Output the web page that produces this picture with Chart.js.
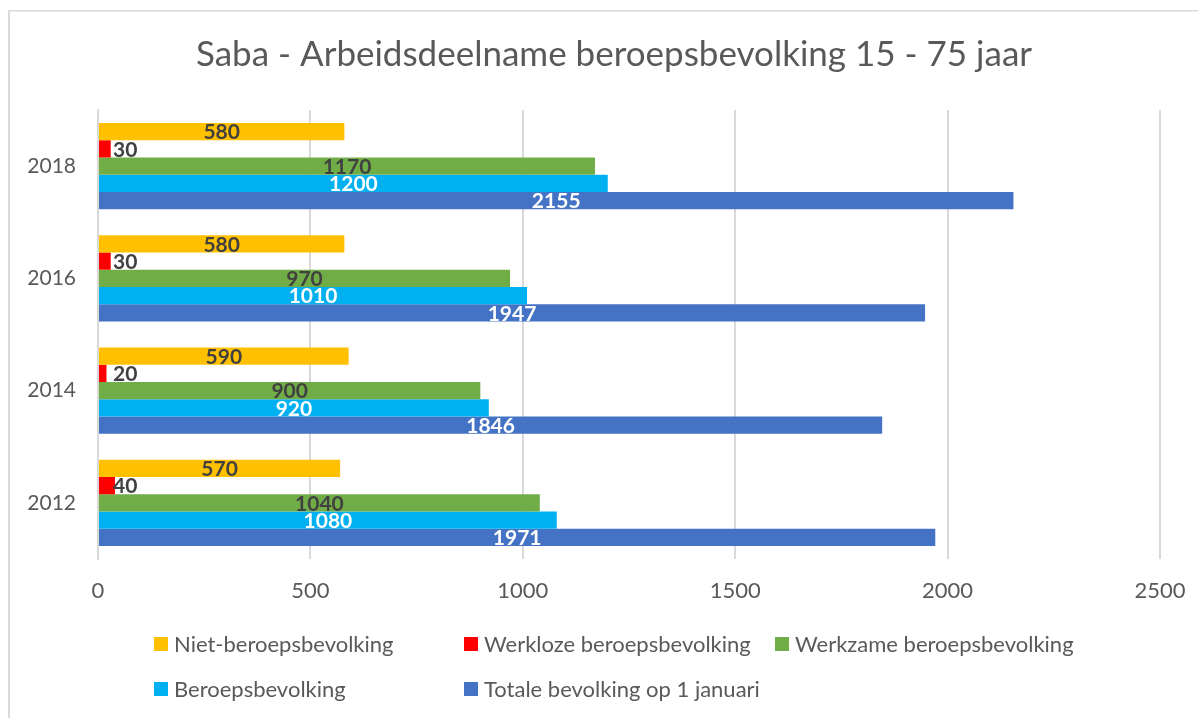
<!DOCTYPE html>
<html>
<head>
<meta charset="utf-8">
<script src="https://cdn.jsdelivr.net/npm/chart.js@4.4.0/dist/chart.umd.min.js"></script>
<style>
  html, body { margin: 0; padding: 0; background: #fff; }
  canvas { display: block; }
</style>
</head>
<body>
<canvas id="chart" width="1198" height="718"></canvas>
<script>
// categories, top to bottom as in the picture
const years = ['2018', '2016', '2014', '2012'];

const nietBeroeps = [580, 580, 590, 570];
const werkloze = [30, 30, 20, 40];
const werkzame = [1170, 970, 900, 1040];
const beroeps = [1200, 1010, 920, 1080];
const totale = [2155, 1947, 1846, 1971];

const xTicks = [0, 500, 1000, 1500, 2000, 2500];

const seriesNames = [
  'Niet-beroepsbevolking',
  'Werkloze beroepsbevolking',
  'Werkzame beroepsbevolking',
  'Beroepsbevolking',
  'Totale bevolking op 1 januari'
];
const seriesColors = ['#FFC000', '#FF0000', '#70AD47', '#00B0F0', '#4472C4'];
const labelColors = ['#404040', '#404040', '#404040', '#ffffff', '#ffffff'];

const FONT = 'Lato, Calibri, "Open Sans", sans-serif';
const TEXT_GREY = '#595959';
const GRID = '#d9d9d9';

const frame = {
  id: 'frame',
  beforeDraw(chart){
    const c = chart.ctx;
    c.save();
    c.fillStyle = '#fff';
    c.fillRect(0, 0, chart.width, chart.height);
    c.fillStyle = GRID;
    c.fillRect(8, 10, chart.width - 8, 1.5);
    c.fillRect(8, 10, 2, chart.height - 10);
    c.restore();
  },
  afterDraw(chart){
    const c = chart.ctx;
    c.save();
    // title
    c.fillStyle = TEXT_GREY;
    c.font = '35px ' + FONT;
    c.textAlign = 'center';
    c.textBaseline = 'middle';
    c.fillText('Saba - Arbeidsdeelname beroepsbevolking 15 - 75 jaar', 614, 55);

    // legend, laid out as a grid like the original
    const cols = [154, 464, 775];
    const rows = [644, 689];
    c.font = '22px ' + FONT;
    c.textAlign = 'left';
    chart.data.datasets.forEach((ds, i) => {
      const x = cols[i % 3];
      const y = rows[Math.floor(i / 3)];
      c.fillStyle = ds.backgroundColor;
      c.fillRect(x, y - 7, 14, 14);
      c.fillStyle = TEXT_GREY;
      c.fillText(ds.label, x + 20, y + 1);
    });
    c.restore();
  }
};

const barLabels = {
  id: 'barLabels',
  afterDatasetsDraw(chart){
    const c = chart.ctx;
    const xs = chart.scales.x;
    c.save();
    c.font = 'bold 21px ' + FONT;
    c.textBaseline = 'middle';
    chart.data.datasets.forEach((ds, i) => {
      const meta = chart.getDatasetMeta(i);
      meta.data.forEach((bar, j) => {
        const v = ds.data[j];
        c.fillStyle = labelColors[i];
        if (i === 1){
          // small bars: label sits just past the base
          c.textAlign = 'left';
          c.fillText(String(v), xs.getPixelForValue(0) + 15, bar.y + 1);
        } else {
          c.textAlign = 'center';
          c.fillText(String(v), (bar.base + bar.x) / 2, bar.y + 1);
        }
      });
    });
    c.restore();
  }
};

const dataSets = [nietBeroeps, werkloze, werkzame, beroeps, totale].map((d, i) => ({
  label: seriesNames[i],
  data: d,
  backgroundColor: seriesColors[i],
  borderWidth: 0,
  categoryPercentage: 0.77,
  barPercentage: 1.0
}));

new Chart(document.getElementById('chart'), {
  type: 'bar',
  data: { labels: years, datasets: dataSets },
  options: {
    indexAxis: 'y',
    responsive: false,
    animation: false,
    devicePixelRatio: 1,
    layout: { padding: { left: 0, right: 38, top: 110, bottom: 109 } },
    plugins: {
      legend: { display: false },
      title: { display: false },
      tooltip: { enabled: false }
    },
    scales: {
      x: {
        min: 0,
        max: 2500,
        afterBuildTicks(scale){ scale.ticks = xTicks.map(v => ({ value: v })); },
        afterFit(scale){
          scale.height = 50;
          scale.paddingLeft = 0;
          scale.paddingRight = 0;
        },
        grid: { color: GRID, lineWidth: 2, drawTicks: false },
        border: { display: false },
        ticks: {
          color: TEXT_GREY,
          font: { family: FONT, size: 22 },
          padding: 19,
          maxRotation: 0,
          callback: (v) => String(v)
        }
      },
      y: {
        afterFit(scale){ scale.width = 98; },
        grid: { display: false, drawTicks: false },
        border: { color: GRID, width: 2 },
        ticks: { color: TEXT_GREY, font: { family: FONT, size: 21 }, padding: 22 }
      }
    }
  },
  plugins: [frame, barLabels]
});
</script>
</body>
</html>
